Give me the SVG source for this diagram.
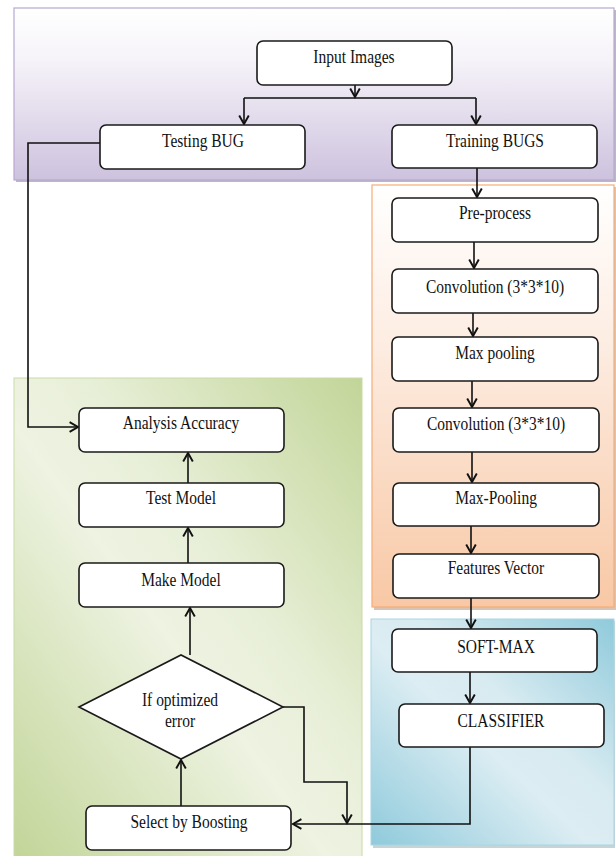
<svg xmlns="http://www.w3.org/2000/svg" width="616" height="856" viewBox="0 0 616 856">
<style>
.box{fill:#fff;stroke:#1a1a1a;stroke-width:1.6}
.t{font-family:"Liberation Serif","Times New Roman",serif;font-size:15.5px;text-anchor:middle;fill:#111}
.c{fill:none;stroke:#111;stroke-width:1.6}
</style>
<defs>
<linearGradient id="gPurple" x1="0" y1="0" x2="0" y2="1">
<stop offset="0" stop-color="#ffffff"/>
<stop offset="0.3" stop-color="#f6f3f9"/>
<stop offset="1" stop-color="#cdc2de"/>
</linearGradient>
<linearGradient id="gOrange" x1="0" y1="0" x2="0" y2="1">
<stop offset="0" stop-color="#ffffff"/>
<stop offset="0.35" stop-color="#fdeee4"/>
<stop offset="1" stop-color="#f8c8a5"/>
</linearGradient>
<linearGradient id="gGreen" x1="0" y1="1" x2="1" y2="0">
<stop offset="0" stop-color="#c2d598"/>
<stop offset="0.45" stop-color="#eef3e2"/>
<stop offset="0.6" stop-color="#e8efd8"/>
<stop offset="1" stop-color="#c2d598"/>
</linearGradient>
<linearGradient id="gBlue" x1="0" y1="1" x2="1" y2="0">
<stop offset="0" stop-color="#8fcadb"/>
<stop offset="0.45" stop-color="#dcedf3"/>
<stop offset="0.6" stop-color="#d8ebf1"/>
<stop offset="1" stop-color="#8fcadb"/>
</linearGradient>
<marker id="arr" markerUnits="userSpaceOnUse" markerWidth="12" markerHeight="12" viewBox="-8 -5 10 10" refX="0" refY="0" orient="auto">
<path d="M-7,-4 L0,0 L-7,4" fill="none" stroke="#111" stroke-width="1.6"/>
</marker>
</defs>

<g id="panels">
<rect x="16" y="10" width="600" height="172" fill="#bdb6c6"/>
<rect x="14" y="8" width="600" height="172" fill="url(#gPurple)" stroke="#b8a8d2" stroke-width="1.2"/>
<rect x="374" y="187" width="242" height="423" fill="#d8c4b4"/>
<rect x="372" y="185" width="242" height="422" fill="url(#gOrange)" stroke="#f4ad7a" stroke-width="1.2"/>
<rect x="14" y="378" width="348" height="480" fill="url(#gGreen)" stroke="#c9dba6" stroke-width="1"/>
<rect x="373" y="621" width="242" height="227" fill="#c6d4d8"/>
<rect x="371" y="619" width="243" height="226" fill="url(#gBlue)" stroke="#a9d6e2" stroke-width="1"/>
</g>

<g id="connectors">
<path class="c" d="M355,85 V97" marker-end="url(#arr)"/>
<path class="c" d="M244,98 H476"/>
<path class="c" d="M244,98 V124" marker-end="url(#arr)"/>
<path class="c" d="M476,98 V124" marker-end="url(#arr)"/>
<path class="c" d="M477,168 V197" marker-end="url(#arr)"/>
<path class="c" d="M474,242 V268" marker-end="url(#arr)"/>
<path class="c" d="M473,313 V336" marker-end="url(#arr)"/>
<path class="c" d="M472,381 V407" marker-end="url(#arr)"/>
<path class="c" d="M472,452 V482" marker-end="url(#arr)"/>
<path class="c" d="M471,526 V553" marker-end="url(#arr)"/>
<path class="c" d="M471,598 V628" marker-end="url(#arr)"/>
<path class="c" d="M470,672 V703" marker-end="url(#arr)"/>
<path class="c" d="M470,747 V824 H293" marker-end="url(#arr)"/>
<path class="c" d="M283,707 H304 V782 H347 V823" marker-end="url(#arr)"/>
<path class="c" d="M181,806 V760" marker-end="url(#arr)"/>
<path class="c" d="M190,655 V608" marker-end="url(#arr)"/>
<path class="c" d="M188,563 V528" marker-end="url(#arr)"/>
<path class="c" d="M188,483 V453" marker-end="url(#arr)"/>
<path class="c" d="M100,143 H28 V427 H78" marker-end="url(#arr)"/>
</g>

<g id="input-images">
<rect class="box" x="257" y="41" width="195" height="44" rx="6"/>
<text class="t" transform="translate(354,63) scale(1,1.25)">Input Images</text>
</g>
<g id="testing-bug">
<rect class="box" x="100" y="125" width="205" height="44" rx="6"/>
<text class="t" transform="translate(203,147) scale(1,1.25)">Testing BUG</text>
</g>
<g id="training-bugs">
<rect class="box" x="392" y="125" width="205" height="43" rx="6"/>
<text class="t" transform="translate(495,147) scale(1,1.25)">Training BUGS</text>
</g>
<g id="pre-process">
<rect class="box" x="392" y="198" width="206" height="44" rx="6"/>
<text class="t" transform="translate(495,219) scale(1,1.25)">Pre-process</text>
</g>
<g id="convolution-1">
<rect class="box" x="392" y="269" width="206" height="44" rx="6"/>
<text class="t" transform="translate(495,293) scale(1,1.25)">Convolution (3*3*10)</text>
</g>
<g id="max-pooling-1">
<rect class="box" x="392" y="337" width="206" height="44" rx="6"/>
<text class="t" transform="translate(495,359) scale(1,1.25)">Max pooling</text>
</g>
<g id="convolution-2">
<rect class="box" x="393" y="408" width="206" height="44" rx="6"/>
<text class="t" transform="translate(496,430) scale(1,1.25)">Convolution (3*3*10)</text>
</g>
<g id="max-pooling-2">
<rect class="box" x="393" y="483" width="206" height="43" rx="6"/>
<text class="t" transform="translate(496,504) scale(1,1.25)">Max-Pooling</text>
</g>
<g id="features-vector">
<rect class="box" x="393" y="554" width="206" height="44" rx="6"/>
<text class="t" transform="translate(496,574) scale(1,1.25)">Features Vector</text>
</g>
<g id="soft-max">
<rect class="box" x="392" y="629" width="205" height="43" rx="6"/>
<text class="t" transform="translate(496,653) scale(1,1.25)">SOFT-MAX</text>
</g>
<g id="classifier">
<rect class="box" x="399" y="704" width="205" height="43" rx="6"/>
<text class="t" transform="translate(501,727) scale(1,1.25)">CLASSIFIER</text>
</g>
<g id="analysis-accuracy">
<rect class="box" x="79" y="408" width="205" height="44" rx="6"/>
<text class="t" transform="translate(181,429) scale(1,1.25)">Analysis Accuracy</text>
</g>
<g id="test-model">
<rect class="box" x="79" y="483" width="205" height="44" rx="6"/>
<text class="t" transform="translate(181,504) scale(1,1.25)">Test Model</text>
</g>
<g id="make-model">
<rect class="box" x="79" y="563" width="205" height="44" rx="6"/>
<text class="t" transform="translate(181,586) scale(1,1.25)">Make Model</text>
</g>
<g id="if-optimized-error">
<polygon points="79,707 181,655 283,707 181,759" fill="#fff" stroke="#1a1a1a" stroke-width="1.6"/>
<text class="t" transform="translate(180,706) scale(1,1.25)">If optimized</text>
<text class="t" transform="translate(180,727) scale(1,1.25)">error</text>
</g>
<g id="select-by-boosting">
<rect class="box" x="86" y="806" width="205" height="44" rx="6"/>
<text class="t" transform="translate(189,828) scale(1,1.25)">Select by Boosting</text>
</g>
</svg>
